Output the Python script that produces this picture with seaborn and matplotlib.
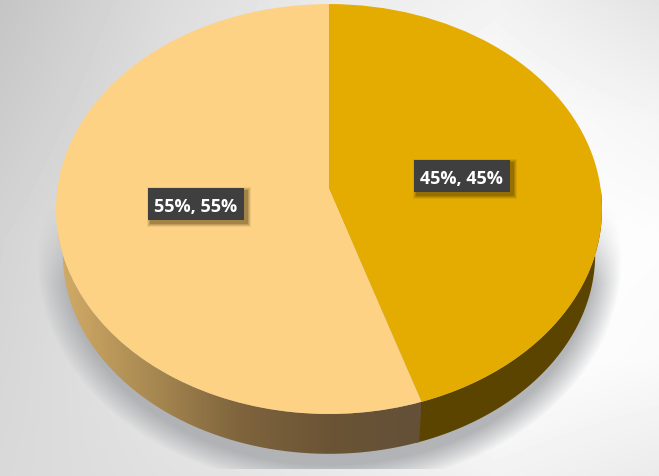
import numpy as np
import matplotlib
matplotlib.use("Agg")
import matplotlib.pyplot as plt
from matplotlib.colors import LinearSegmentedColormap, to_rgb
from matplotlib.patches import PathPatch, Rectangle
from matplotlib.path import Path
from matplotlib.transforms import Transform
import seaborn as sns

categories = ["A", "B"]
shares = [45, 55]
top_colors = ["#E4AC00", "#FED285"]
side_right = "#5B4400"
side_left_stops = ["#D3AB66", "#A98A52", "#7F643D", "#6B5435", "#635037"]

W, H = 659, 477
APEX_X, APEX_Y = 329.0, 190.0
K, A_X, A_Y = 0.0976, 271.7, 203.0
RIM_SCALE, RIM_DROP, DISC_CY = 0.975, 45.0, 210.0

sns.set_theme(style="white")
plt.rcParams["font.family"] = ["Open Sans", "DejaVu Sans"]


def project(u, v):
    w = 1 + K * v
    return APEX_X + A_X * u / w, APEX_Y - A_Y * v / w


class Perspective(Transform):
    input_dims = output_dims = 2
    is_affine = False
    has_inverse = False

    def transform_non_affine(self, values):
        values = np.asarray(values, dtype=float)
        x, y = project(values[:, 0], values[:, 1])
        return np.column_stack([x, y])


fig = plt.figure(figsize=(W / 100, H / 100), dpi=100)
ax = fig.add_axes([0, 0, 1, 1])

wedges, _ = ax.pie(shares, colors=sns.color_palette(top_colors), startangle=90,
                   counterclock=False, radius=1, wedgeprops=dict(linewidth=0, zorder=5))
for w in wedges:
    w.set_transform(Perspective() + ax.transData)
ax.set_aspect("auto")
ax.set_xlim(0, W)
ax.set_ylim(H, 0)
ax.axis("off")

# background: soft grey vignette
yy, xx = np.mgrid[0:H, 0:W]
grid_x = [0, 165, 330, 495, 659]
grid_y = [0, 120, 240, 360, 477]
grid_v = np.array([
    [.77, .86, .92, .95, .89],
    [.80, .88, .94, .99, .96],
    [.83, .90, .95, 1.0, .99],
    [.84, .90, .95, 1.0, .98],
    [.85, .88, .91, .95, .92],
])
rows = np.array([np.interp(np.arange(W), grid_x, r) for r in grid_v])
bg = np.array([np.interp(np.arange(H), grid_y, rows[:, j]) for j in range(W)]).T
ax.imshow(bg, extent=(0, W, H, 0), cmap="gray", vmin=0, vmax=1, aspect="auto", zorder=0)

# soft shadow under the disc
r = np.hypot((xx - 329) / 292, (yy - 262) / 226)
alpha = np.clip((1 - r) / 0.10, 0, 1) ** 0.9
alpha *= np.clip((yy - 205) / 80, 0, 1)
alpha *= (yy < 470)
sh = np.zeros((H, W, 4))
sh[..., :3] = to_rgb("#ABADB0")
sh[..., 3] = alpha * 0.9
ax.imshow(sh, extent=(0, W, H, 0), aspect="auto", zorder=1)

# extruded rim, built from the shares
seam = np.pi / 2 - 2 * np.pi * shares[0] / sum(shares)


def rim_path(t0, t1):
    t = np.linspace(t0, t1, 200)
    x, y = project(np.cos(t), np.sin(t))
    x2 = APEX_X + (x - APEX_X) * RIM_SCALE
    y2 = DISC_CY + (y - DISC_CY) * RIM_SCALE + RIM_DROP
    return Path(np.column_stack([np.r_[x, x2[::-1]], np.r_[y, y2[::-1]]]))


ax.add_patch(PathPatch(rim_path(0.0, seam - 0.012), facecolor=side_right,
                       edgecolor="none", zorder=3))

cmap = LinearSegmentedColormap.from_list("rim", side_left_stops)
grad = ax.imshow(np.linspace(0, 1, 400)[None, :], extent=(58, 421, 460, 200), cmap=cmap,
                 aspect="auto", zorder=3)
left_patch = PathPatch(rim_path(seam, -np.pi), facecolor="none", edgecolor="none",
                       transform=ax.transData)
ax.add_patch(left_patch)
grad.set_clip_path(left_patch)

# labels
label_centers = [(461.5, 177), (196, 205)]
for share, (cx, cy) in zip(shares, label_centers):
    for g, a in [(4, .08), (3, .12), (2, .16), (1, .2)]:
        ax.add_patch(Rectangle((cx - 48 + 3 - g, cy - 16 + 3 - g), 96 + 2 * g, 32 + 2 * g,
                               facecolor="#3a2a00", edgecolor="none", alpha=a, zorder=7))
    ax.add_patch(Rectangle((cx - 48, cy - 16), 96, 32, facecolor="#3F3F40", edgecolor="none", zorder=8))
    ax.text(cx, cy, f"{share}%, {share}%", color="white", fontsize=13, fontweight="bold",
            ha="center", va="center_baseline", zorder=9)

fig.savefig("out.png", dpi=100)
